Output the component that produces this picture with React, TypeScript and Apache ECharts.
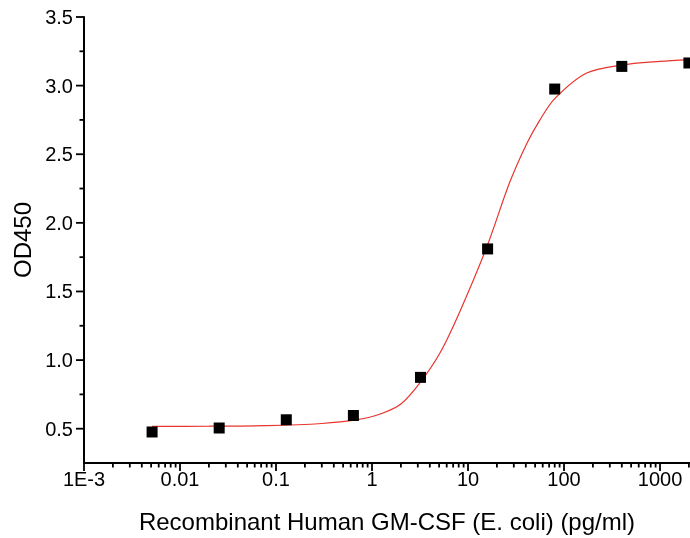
import React, { useEffect, useRef } from "react";
import * as echarts from "echarts";

// Measured points (concentration in pg/ml, OD450)
const concentrations = [0.00512, 0.0256, 0.128, 0.64, 3.2, 16, 80, 400, 2000];
const od450 = [0.476, 0.505, 0.565, 0.596, 0.874, 1.81, 2.975, 3.14, 3.165];

// Fitted curve
const fitX = [0.00512, 0.02, 0.08, 0.3, 0.7, 1.2, 2, 3.2, 5.1, 8.3, 16, 27, 41, 56, 80, 170, 400, 1000, 2000];
const fitY = [0.517, 0.518, 0.522, 0.538, 0.566, 0.605, 0.68, 0.84, 1.051, 1.36, 1.84, 2.29, 2.579, 2.749, 2.905, 3.09, 3.15, 3.177, 3.19];

// Axis ticks
const xTickValues = [0.001, 0.01, 0.1, 1, 10, 100, 1000];
const xTickLabels = ["1E-3", "0.01", "0.1", "1", "10", "100", "1000"];
const xMinorMultipliers = [2, 3, 4, 5, 6, 7, 8, 9];
const yTickValues = [0.5, 1.0, 1.5, 2.0, 2.5, 3.0, 3.5];
const yTickLabels = ["0.5", "1.0", "1.5", "2.0", "2.5", "3.0", "3.5"];
const yMinorTicks = [0.75, 1.25, 1.75, 2.25, 2.75, 3.25];

const X_MIN = 0.001;
const X_MAX = 2053;
const Y_MIN = 0.25;
const Y_MAX = 3.5;

const xMinorTicks: number[] = [];
for (const d of xTickValues) {
  for (const m of xMinorMultipliers) {
    const v = +(d * m).toPrecision(6);
    if (v <= X_MAX) xMinorTicks.push(v);
  }
}

const FONT = "Liberation Sans, Arial, sans-serif";

function labelFor(values: number[], labels: string[], v: number): string {
  for (let i = 0; i < values.length; i++) {
    if (Math.abs(values[i] - v) <= Math.abs(values[i]) * 1e-6) return labels[i];
  }
  return "";
}

// tick marks drawn through the axes' own scales
function tickSeries(values: number[], dir: "x" | "y", len: number) {
  return {
    type: "custom",
    clip: false,
    data: values.map((v) => (dir === "x" ? [v, Y_MIN] : [X_MIN, v])),
    renderItem: (_p: any, api: any) => {
      const p = api.coord([api.value(0), api.value(1)]);
      if (dir === "x") {
        return { type: "line", shape: { x1: p[0], y1: p[1], x2: p[0], y2: p[1] + len }, style: { stroke: "#000", lineWidth: 1.8 } };
      }
      return { type: "line", shape: { x1: p[0] - len, y1: p[1], x2: p[0], y2: p[1] }, style: { stroke: "#000", lineWidth: 1.8 } };
    },
  };
}

export default function App() {
  const ref = useRef<HTMLDivElement>(null);
  useEffect(() => {
    if (!ref.current) return;
    const chart = echarts.init(ref.current, null, { renderer: "svg" });
    chart.setOption({
      animation: false,
      grid: { left: 84, right: 0, top: 17, bottom: 75 },
      xAxis: {
        type: "log",
        logBase: 10,
        min: X_MIN,
        max: X_MAX,
        position: "bottom",
        name: "Recombinant Human GM-CSF (E. coli) (pg/ml)",
        nameLocation: "middle",
        nameGap: 46,
        nameTextStyle: { fontFamily: FONT, fontSize: 24, color: "#000" },
        axisLine: { show: true, onZero: false, lineStyle: { color: "#000", width: 2 } },
        axisTick: { show: false },
        axisLabel: {
          show: true,
          margin: 6,
          fontFamily: FONT,
          fontSize: 20,
          color: "#000",
          customValues: xTickValues,
          formatter: (v: number) => labelFor(xTickValues, xTickLabels, v),
        },
        splitLine: { show: false },
        minorTick: { show: false },
      },
      yAxis: {
        type: "value",
        min: Y_MIN,
        max: Y_MAX,
        position: "left",
        name: "OD450",
        nameLocation: "middle",
        nameRotate: 90,
        nameGap: 50,
        nameTextStyle: { fontFamily: FONT, fontSize: 24, color: "#000" },
        axisLine: { show: true, onZero: false, lineStyle: { color: "#000", width: 2 } },
        axisTick: { show: false },
        axisLabel: {
          show: true,
          margin: 11,
          fontFamily: FONT,
          fontSize: 20,
          color: "#000",
          customValues: yTickValues,
          formatter: (v: number) => labelFor(yTickValues, yTickLabels, v),
        },
        splitLine: { show: false },
      },
      series: [
        {
          type: "line",
          data: fitX.map((x, i) => [x, fitY[i]]),
          smooth: 0.3,
          showSymbol: false,
          symbol: "none",
          lineStyle: { color: "#e8352e", width: 1.2 },
          z: 2,
        },
        {
          type: "scatter",
          data: concentrations.map((x, i) => [x, od450[i]]),
          symbol: "rect",
          symbolSize: 11,
          itemStyle: { color: "#000", opacity: 1 },
          z: 3,
        },
        tickSeries(xTickValues, "x", 8),
        tickSeries(xMinorTicks, "x", 4.5),
        tickSeries(yTickValues, "y", 8),
        tickSeries(yMinorTicks, "y", 4.5),
      ],
    });
    return () => chart.dispose();
  }, []);
  return (
    <div
      ref={ref}
      style={{ position: "fixed", left: 0, top: 0, width: 690, height: 538 }}
    />
  );
}
